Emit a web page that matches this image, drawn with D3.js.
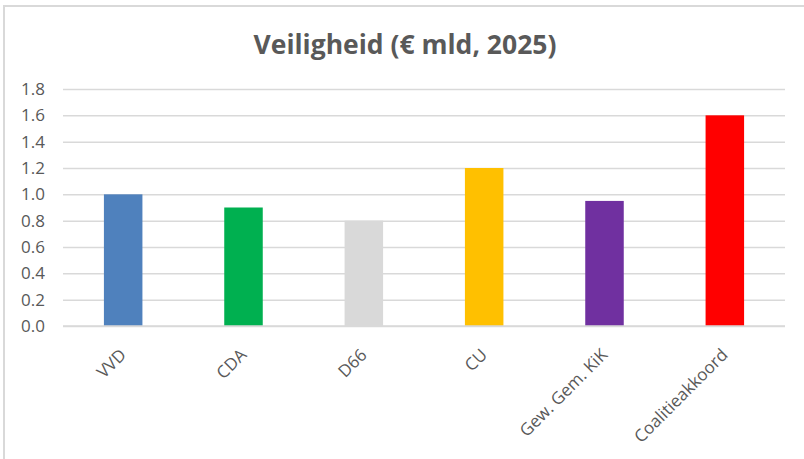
<!DOCTYPE html>
<html>
<head>
<meta charset="utf-8">
<script src="https://cdn.jsdelivr.net/npm/d3@7"></script>
<style>
  body { margin: 0; background: #fff; }
  svg { display: block; font-family: "Open Sans", sans-serif; }
</style>
</head>
<body>
<div id="chart"></div>
<script>
// data
var parties = ["VVD", "CDA", "D66", "CU", "Gew. Gem. KiK", "Coalitieakkoord"];
var values = [1.0, 0.9, 0.8, 1.2, 0.95, 1.6];
var barColors = ["#4f81bd", "#00b050", "#d9d9d9", "#ffc000", "#7030a0", "#ff0000"];
var yTicks = [0, 0.2, 0.4, 0.6, 0.8, 1.0, 1.2, 1.4, 1.6, 1.8];

var W = 804, H = 459;
var margin = ({top: 89, right: 19, bottom: 133, left: 63});
var width = W - margin.left - margin.right,
    height = H - margin.top - margin.bottom;

var svg = d3.select("#chart").append("svg")
    .attr("width", W)
    .attr("height", H);

// chart frame (only top and left edges visible)
svg.append("rect")
    .attr("x", 4).attr("y", 6)
    .attr("width", W + 20).attr("height", H + 20)
    .attr("fill", "none")
    .attr("stroke", "#d9d9d9")
    .attr("stroke-width", 2);

svg.append("text")
    .attr("x", 405)
    .attr("y", 54)
    .attr("text-anchor", "middle")
    .attr("font-size", 26.5)
    .attr("font-weight", 700)
    .attr("fill", "#595959")
    .text("Veiligheid (€ mld, 2025)");

var g = svg.append("g")
    .attr("transform", "translate(" + margin.left + "," + margin.top + ")");

const xScale = d3.scaleBand()
    .domain(parties)
    .range([0, width])
    .paddingInner(0.68)
    .paddingOuter(0.34);

const yScale = d3.scaleLinear()
    .domain([0, 1.8])
    .range([height, 0]);

// gridlines
const yAxis = d3.axisLeft(yScale)
    .tickValues(yTicks)
    .tickSize(-width)
    .tickPadding(18)
    .tickFormat(d3.format(".1f"));

g.append("g")
    .attr("class", "axis y-axis")
    .call(yAxis)
    .call(a => a.select(".domain").remove())
    .call(a => a.selectAll("line").attr("stroke", "#d9d9d9").attr("stroke-width", 1.5))
    .call(a => a.selectAll("text")
        .attr("fill", "#595959")
        .attr("font-size", 17)
        .attr("font-family", "'Open Sans', sans-serif"));

g.selectAll(".bar")
    .data(parties)
    .join("rect")
    .attr("class", "bar")
    .attr("x", d => xScale(d))
    .attr("width", xScale.bandwidth())
    .attr("y", (d, i) => yScale(values[i]))
    .attr("height", (d, i) => height - yScale(values[i]))
    .attr("fill", (d, i) => barColors[i]);

// category axis line
g.append("line")
    .attr("x1", 0).attr("x2", width)
    .attr("y1", height).attr("y2", height)
    .attr("stroke", "#d9d9d9")
    .attr("stroke-width", 1.5);

g.selectAll(".xlabel")
    .data(parties)
    .join("text")
    .attr("class", "xlabel")
    .attr("text-anchor", "end")
    .attr("font-size", 17)
    .attr("fill", "#595959")
    .attr("transform", d => "translate(" + (xScale(d) + xScale.bandwidth() / 2 + 4) + "," + (height + 30) + ") rotate(-45)")
    .text(d => d);
</script>
</body>
</html>
